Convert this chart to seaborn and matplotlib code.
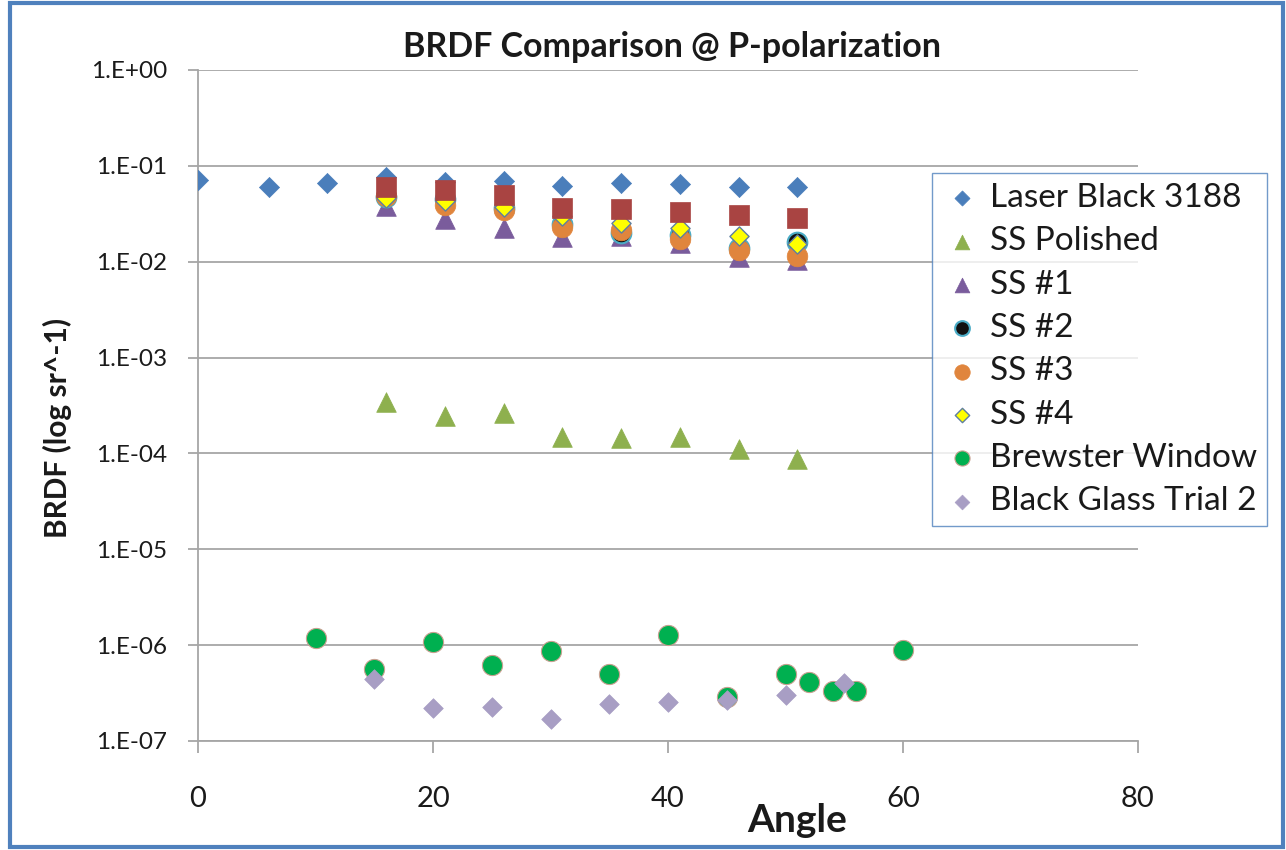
import matplotlib
matplotlib.use("Agg")
import matplotlib.pyplot as plt
from matplotlib.patches import Rectangle
import seaborn as sns

# ---- data ----
angle_laser = [0, 6, 11, 16, 21, 26, 31, 36, 41, 46, 51]
brdf_laser = [0.071, 0.060, 0.066, 0.076, 0.068, 0.070, 0.062, 0.067, 0.065, 0.060, 0.060]

angle_ss = [16, 21, 26, 31, 36, 41, 46, 51]
brdf_ss_polished = [3.4e-4, 2.45e-4, 2.65e-4, 1.5e-4, 1.45e-4, 1.48e-4, 1.1e-4, 8.7e-5]
brdf_ss1 = [0.038, 0.028, 0.0225, 0.018, 0.0185, 0.0158, 0.0112, 0.0105]
brdf_ss2 = [0.047, 0.045, 0.036, 0.025, 0.020, 0.019, 0.014, 0.0162]
brdf_ss3 = [0.048, 0.039, 0.035, 0.0232, 0.0215, 0.0171, 0.0133, 0.0115]
brdf_ss4 = [0.046, 0.0435, 0.037, 0.030, 0.0255, 0.0223, 0.0184, 0.0154]
brdf_unlabeled = [0.060, 0.056, 0.050, 0.0366, 0.0352, 0.0333, 0.0307, 0.0284]

angle_brewster = [10, 15, 20, 25, 30, 35, 40, 45, 50, 52, 54, 56, 60]
brdf_brewster = [1.2e-6, 5.6e-7, 1.08e-6, 6.2e-7, 8.6e-7, 5.0e-7, 1.28e-6, 2.85e-7,
                 5.0e-7, 4.1e-7, 3.35e-7, 3.35e-7, 9.0e-7]

angle_glass = [15, 20, 25, 30, 35, 40, 45, 50, 55]
brdf_glass = [4.4e-7, 2.2e-7, 2.25e-7, 1.68e-7, 2.45e-7, 2.55e-7, 2.7e-7, 3.05e-7, 4.0e-7]

y_tick_values = [1e0, 1e-1, 1e-2, 1e-3, 1e-4, 1e-5, 1e-6, 1e-7]
y_tick_labels = ["1.E+00", "1.E-01", "1.E-02", "1.E-03", "1.E-04", "1.E-05", "1.E-06", "1.E-07"]
x_tick_values = [0, 20, 40, 60, 80]

# ---- style ----
sns.set_style("white")
plt.rcParams["font.family"] = ["Lato", "DejaVu Sans"]

W, H = 1286, 850
fig = plt.figure(figsize=(W / 100, H / 100), dpi=100)
ax = fig.add_axes([198 / W, 109 / H, 940 / W, 671 / H])

series = [
    dict(x=angle_laser, y=brdf_laser, label="Laser Black 3188", marker="D", s=105,
         color="#4A7EBB", ec="#4A7EBB", lw=0.5),
    dict(x=angle_ss, y=brdf_ss_polished, label="SS Polished", marker="^", s=200,
         color="#8EB04E", ec="#8EB04E", lw=0.5),
    dict(x=angle_ss, y=brdf_ss1, label="SS #1", marker="^", s=200,
         color="#7A5C9C", ec="#7A5C9C", lw=0.5),
    dict(x=angle_ss, y=brdf_ss2, label="SS #2", marker="o", s=200,
         color="#111111", ec="#4BACC6", lw=1.5),
    dict(x=angle_ss, y=brdf_ss3, label="SS #3", marker="o", s=220,
         color="#E0853D", ec="#E0853D", lw=0.5),
    dict(x=angle_ss, y=brdf_ss4, label="SS #4", marker="D", s=95,
         color="#FFFF00", ec="#5F7F9F", lw=1.0),
    dict(x=angle_brewster, y=brdf_brewster, label="Brewster Window", marker="o", s=210,
         color="#00B050", ec="#C8A090", lw=0.8),
    dict(x=angle_glass, y=brdf_glass, label="Black Glass Trial 2", marker="D", s=100,
         color="#A89EC4", ec="#A89EC4", lw=0.5),
    dict(x=angle_ss, y=brdf_unlabeled, label="_nolegend_", marker="s", s=200,
         color="#A94442", ec="#A94442", lw=0.5),
]

for sd in series:
    sns.scatterplot(x=sd["x"], y=sd["y"], ax=ax, marker=sd["marker"], s=sd["s"],
                    color=sd["color"], edgecolor=sd["ec"], linewidth=sd["lw"],
                    label=sd["label"], legend=False, zorder=3)

if ax.get_legend() is not None:
    ax.get_legend().remove()

ax.set_yscale("log")
ax.set_xlim(0, 80)
ax.set_ylim(1e-7, 1)
ax.set_yticks(y_tick_values)
ax.set_yticklabels(y_tick_labels)
ax.set_xticks(x_tick_values)
ax.set_xticklabels([str(v) for v in x_tick_values])
ax.yaxis.set_minor_locator(matplotlib.ticker.NullLocator())
ax.xaxis.set_minor_locator(matplotlib.ticker.NullLocator())

grid_col = "#A6A6A6"
ax.yaxis.grid(True, color=grid_col, lw=1.3)
ax.xaxis.grid(False)
ax.set_axisbelow(True)
for side in ["top", "right"]:
    ax.spines[side].set_visible(False)
for side in ["left", "bottom"]:
    ax.spines[side].set_color(grid_col)
    ax.spines[side].set_linewidth(1.3)
ax.tick_params(axis="y", direction="out", length=7, width=1.3, color=grid_col,
               labelsize=17.5, pad=15, labelcolor="#1a1a1a", left=True)
ax.tick_params(axis="x", direction="out", length=8.5, width=1.3, color=grid_col,
               labelsize=21, pad=24, labelcolor="#1a1a1a", bottom=True)
ax.set_xlabel("")
ax.set_ylabel("")

fig.text(672 / W, 1 - 47 / H, "BRDF Comparison @ P-polarization", ha="center", va="center",
         fontsize=24.5, fontweight="bold", color="#1a1a1a")
fig.text(797 / W, 1 - 820 / H, "Angle", ha="center", va="center",
         fontsize=28, fontweight="bold", color="#1a1a1a")
fig.text(57 / W, 1 - 428 / H, "BRDF (log sr^-1)", ha="center", va="center", rotation=90,
         fontsize=21.5, fontweight="bold", color="#1a1a1a")

handles, labels = ax.get_legend_handles_labels()
leg = fig.legend(handles, labels, loc="upper left", bbox_to_anchor=(932 / W, 1 - 173 / H),
                 bbox_transform=fig.transFigure, frameon=True, fancybox=False,
                 edgecolor="#4F81BD", fontsize=24, labelspacing=0.4, handletextpad=0.25,
                 handlelength=1.2, borderpad=0.3, borderaxespad=0, markerscale=0.75)
leg.get_frame().set_linewidth(1.0)
for t in leg.get_texts():
    t.set_color("#1a1a1a")

fig.patches.append(Rectangle((10 / W, 3 / H), 1273 / W, 844 / H, transform=fig.transFigure,
                             fill=False, edgecolor="#4F81BD", lw=3, zorder=10))

fig.savefig("out.png", dpi=100)
